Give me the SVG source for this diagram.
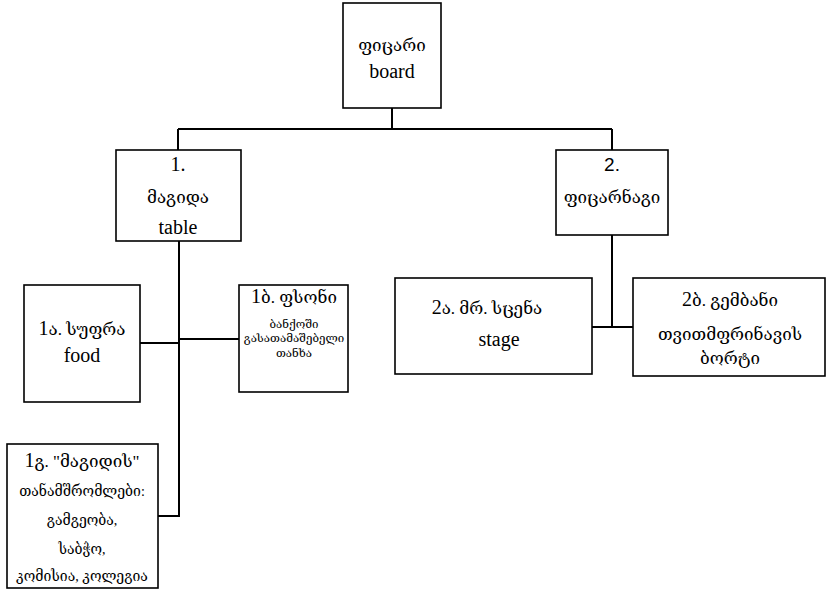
<svg xmlns="http://www.w3.org/2000/svg" width="826" height="590" viewBox="0 0 826 590">
<style>
.box{fill:#fff;stroke:#000;stroke-width:1.6}
.c{fill:none;stroke:#000;stroke-width:2}
text{font-family:"Liberation Serif","DejaVu Serif","DejaVu Sans",serif;font-size:17px;fill:#000;text-anchor:middle}
.l{font-size:20px}
.s{font-size:11.5px}
.m{font-size:14px}
.sans{font-family:"Liberation Sans",Arial,sans-serif;font-size:19px}
</style>
<rect width="826" height="590" fill="#fff"/>
<g id="connectors">
<path class="c" d="M392 108V129M178 129H612M178 129V150M612 129V150"/>
<path class="c" d="M179 241V516H158M140 343H179M179 339H240"/>
<path class="c" d="M612 235V327M592 327H633"/>
</g>
<g id="root">
<rect class="box" x="343" y="3" width="98" height="105"/>
<text x="392" y="51">ფიცარი</text>
<text class="l" x="392" y="78">board</text>
</g>
<g id="n1">
<rect class="box" x="116" y="150" width="125" height="91"/>
<text class="l" x="178" y="171">1.</text>
<text x="178" y="203">მაგიდა</text>
<text class="l" x="178" y="234">table</text>
</g>
<g id="n2">
<rect class="box" x="556" y="150" width="112" height="85"/>
<text class="sans" x="612" y="171">2.</text>
<text x="612" y="203">ფიცარნაგი</text>
</g>
<g id="n1a">
<rect class="box" x="24" y="285" width="116" height="117"/>
<text x="82" y="335"><tspan font-size="20">1</tspan>ა. სუფრა</text>
<text class="l" x="82" y="362">food</text>
</g>
<g id="n1b">
<rect class="box" x="239" y="285" width="109" height="107"/>
<text x="294" y="303"><tspan font-size="20">1</tspan>ბ. ფსონი</text>
<text class="s" x="294" y="328">ბანქოში</text>
<text class="s" x="294" y="342">გასათამაშებელი</text>
<text class="s" x="294" y="357">თანხა</text>
</g>
<g id="n1g">
<rect class="box" x="7" y="444" width="151" height="144"/>
<text x="82" y="467"><tspan font-size="20">1</tspan>გ. "მაგიდის"</text>
<text class="m" x="82" y="496">თანამშრომლები:</text>
<text class="m" x="82" y="525">გამგეობა,</text>
<text class="m" x="82" y="554">საბჭო,</text>
<text class="m" x="82" y="581">კომისია, კოლეგია</text>
</g>
<g id="n2a">
<rect class="box" x="395" y="278" width="197" height="96"/>
<text x="487" y="314"><tspan font-size="20">2</tspan>ა. მრ. სცენა</text>
<text class="l" x="499" y="346">stage</text>
</g>
<g id="n2b">
<rect class="box" x="633" y="278" width="192" height="98"/>
<text x="730" y="306"><tspan font-size="20">2</tspan>ბ. გემბანი</text>
<text x="730" y="340">თვითმფრინავის</text>
<text x="730" y="364">ბორტი</text>
</g>
</svg>
